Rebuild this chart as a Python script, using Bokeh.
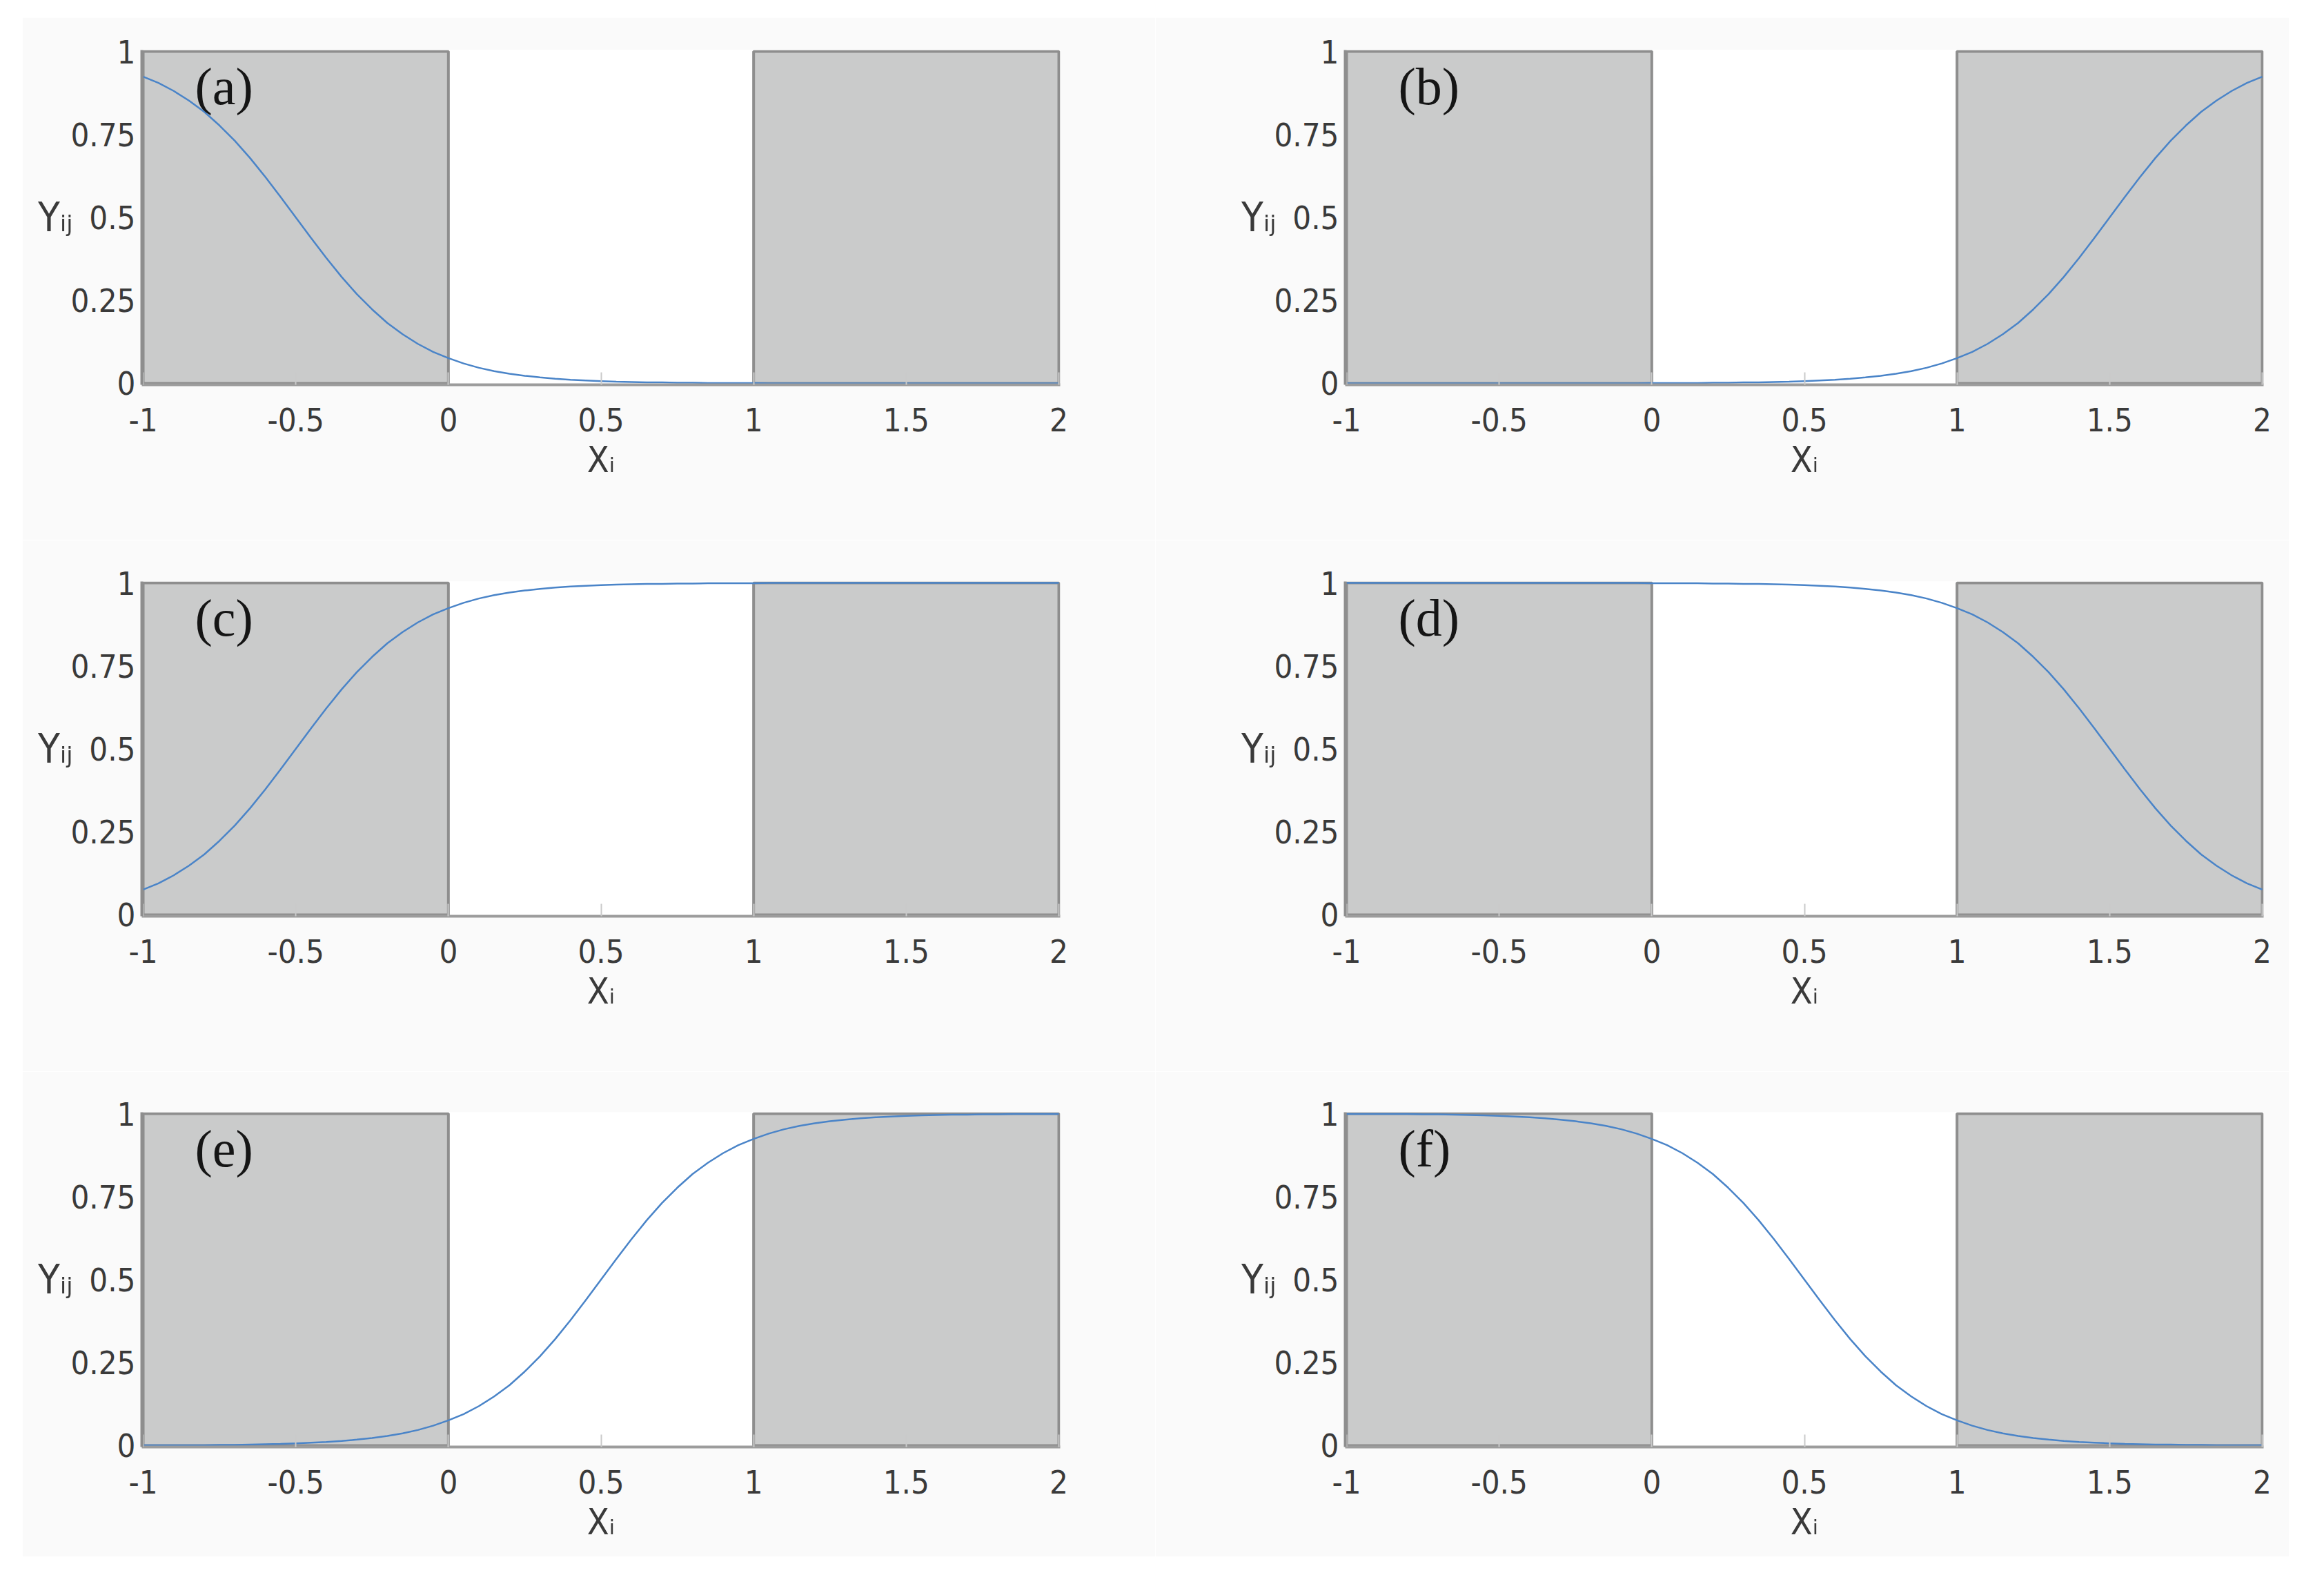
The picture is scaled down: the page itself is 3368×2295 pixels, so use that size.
from bokeh.plotting import figure
from bokeh.layouts import gridplot
from bokeh.models import Range1d, FixedTicker, Label
from bokeh.embed import file_html
from bokeh.resources import INLINE

# ---------------- data ----------------
x_vals = [-1.00, -0.95, -0.90, -0.85, -0.80, -0.75, -0.70, -0.65, -0.60, -0.55,
          -0.50, -0.45, -0.40, -0.35, -0.30, -0.25, -0.20, -0.15, -0.10, -0.05,
          0.00, 0.05, 0.10, 0.15, 0.20, 0.25, 0.30, 0.35, 0.40, 0.45,
          0.50, 0.55, 0.60, 0.65, 0.70, 0.75, 0.80, 0.85, 0.90, 0.95,
          1.00, 1.05, 1.10, 1.15, 1.20, 1.25, 1.30, 1.35, 1.40, 1.45,
          1.50, 1.55, 1.60, 1.65, 1.70, 1.75, 1.80, 1.85, 1.90, 1.95, 2.00]

y_a = [0.924, 0.905, 0.881, 0.852, 0.818, 0.777, 0.731, 0.679, 0.622, 0.562,
       0.500, 0.438, 0.378, 0.321, 0.269, 0.223, 0.182, 0.148, 0.119, 0.095,
       0.076, 0.060, 0.047, 0.037, 0.029, 0.023, 0.018, 0.014, 0.011, 0.009,
       0.007, 0.005, 0.004, 0.003, 0.003, 0.002, 0.002, 0.001, 0.001, 0.001,
       0.001, 0.000, 0.000, 0.000, 0.000, 0.000, 0.000, 0.000, 0.000, 0.000,
       0.000, 0.000, 0.000, 0.000, 0.000, 0.000, 0.000, 0.000, 0.000, 0.000, 0.000]
y_b = [0.000, 0.000, 0.000, 0.000, 0.000, 0.000, 0.000, 0.000, 0.000, 0.000,
       0.000, 0.000, 0.000, 0.000, 0.000, 0.000, 0.000, 0.000, 0.000, 0.000,
       0.001, 0.001, 0.001, 0.001, 0.002, 0.002, 0.003, 0.003, 0.004, 0.005,
       0.007, 0.009, 0.011, 0.014, 0.018, 0.023, 0.029, 0.037, 0.047, 0.060,
       0.076, 0.095, 0.119, 0.148, 0.182, 0.223, 0.269, 0.321, 0.378, 0.438,
       0.500, 0.562, 0.622, 0.679, 0.731, 0.777, 0.818, 0.852, 0.881, 0.905, 0.924]
y_c = [0.076, 0.095, 0.119, 0.148, 0.182, 0.223, 0.269, 0.321, 0.378, 0.438,
       0.500, 0.562, 0.622, 0.679, 0.731, 0.777, 0.818, 0.852, 0.881, 0.905,
       0.924, 0.940, 0.953, 0.963, 0.971, 0.977, 0.982, 0.986, 0.989, 0.991,
       0.993, 0.995, 0.996, 0.997, 0.997, 0.998, 0.998, 0.999, 0.999, 0.999,
       0.999, 1.000, 1.000, 1.000, 1.000, 1.000, 1.000, 1.000, 1.000, 1.000,
       1.000, 1.000, 1.000, 1.000, 1.000, 1.000, 1.000, 1.000, 1.000, 1.000, 1.000]
y_d = [1.000, 1.000, 1.000, 1.000, 1.000, 1.000, 1.000, 1.000, 1.000, 1.000,
       1.000, 1.000, 1.000, 1.000, 1.000, 1.000, 1.000, 1.000, 1.000, 1.000,
       0.999, 0.999, 0.999, 0.999, 0.998, 0.998, 0.997, 0.997, 0.996, 0.995,
       0.993, 0.991, 0.989, 0.986, 0.982, 0.977, 0.971, 0.963, 0.953, 0.940,
       0.924, 0.905, 0.881, 0.852, 0.818, 0.777, 0.731, 0.679, 0.622, 0.562,
       0.500, 0.438, 0.378, 0.321, 0.269, 0.223, 0.182, 0.148, 0.119, 0.095, 0.076]
y_e = [0.001, 0.001, 0.001, 0.001, 0.001, 0.002, 0.002, 0.003, 0.004, 0.005,
       0.007, 0.009, 0.011, 0.014, 0.018, 0.023, 0.029, 0.037, 0.047, 0.060,
       0.076, 0.095, 0.119, 0.148, 0.182, 0.223, 0.269, 0.321, 0.378, 0.438,
       0.500, 0.562, 0.622, 0.679, 0.731, 0.777, 0.818, 0.852, 0.881, 0.905,
       0.924, 0.940, 0.953, 0.963, 0.971, 0.977, 0.982, 0.986, 0.989, 0.991,
       0.993, 0.995, 0.996, 0.997, 0.997, 0.998, 0.998, 0.999, 0.999, 0.999, 0.999]
y_f = [0.999, 0.999, 0.999, 0.999, 0.999, 0.998, 0.998, 0.997, 0.996, 0.995,
       0.993, 0.991, 0.989, 0.986, 0.982, 0.977, 0.971, 0.963, 0.953, 0.940,
       0.924, 0.905, 0.881, 0.852, 0.818, 0.777, 0.731, 0.679, 0.622, 0.562,
       0.500, 0.438, 0.378, 0.321, 0.269, 0.223, 0.182, 0.148, 0.119, 0.095,
       0.076, 0.060, 0.047, 0.037, 0.029, 0.023, 0.018, 0.014, 0.011, 0.009,
       0.007, 0.005, 0.004, 0.003, 0.003, 0.002, 0.002, 0.001, 0.001, 0.001, 0.001]

series = [y_a, y_b, y_c, y_d, y_e, y_f]
panel_labels = ["(a)", "(b)", "(c)", "(d)", "(e)", "(f)"]

shade_left = [-1.0, 1.0]
shade_right = [0.0, 2.0]
shade_bottom = [0.0, 0.0]
shade_top = [1.0, 1.0]

x_ticks = [-1.0, -0.5, 0.0, 0.5, 1.0, 1.5, 2.0]
x_tick_labels = ["-1", "-0.5", "0", "0.5", "1", "1.5", "2"]
y_ticks = [0.0, 0.25, 0.5, 0.75, 1.0]
y_tick_labels = ["0", "0.25", "0.5", "0.75", "1"]
x_title = "X\u1d62"
y_title = "Y\u1d62\u2c7c"

# ---------------- styling / layout ----------------
BG = "#fafafa"
LAB_FONT = "Liberation Serif"
TICK_FONT = "DejaVu Sans Condensed"
TXT = "#3a3a3a"
LINE_BLUE = "#4a84c8"
SHADE = "#cacbcb"
SHADE_EDGE = "#8e8e8e"

col_borders = [(173, 138), (275, 37)]
row_borders = [(47, 225), (60, 225), (59, 159)]

figs = []
for i, (ys, lab) in enumerate(zip(series, panel_labels)):
    r, c = divmod(i, 2)
    bl, br = col_borders[c]
    bt, bb = row_borders[r]
    p = figure(frame_width=1331, frame_height=485,
               x_range=Range1d(-1.00452, 2.00452),
               y_range=Range1d(-0.00416, 1.00416),
               output_backend="svg", toolbar_location=None,
               min_border_left=bl, min_border_right=br,
               min_border_top=bt, min_border_bottom=bb)
    p.background_fill_color = "white"
    p.border_fill_color = BG
    p.outline_line_color = None
    p.xgrid.visible = False
    p.ygrid.visible = False

    p.quad(left=shade_left, right=shade_right, bottom=shade_bottom, top=shade_top,
           fill_color=SHADE, line_color=SHADE_EDGE, line_width=4)
    p.line(x_vals, ys, line_color=LINE_BLUE, line_width=2.5)

    for ax in (p.xaxis, p.yaxis):
        ax.minor_tick_line_color = None
        ax.major_label_text_font = TICK_FONT
        ax.major_label_text_font_size = "47px"
        ax.major_label_text_color = TXT
        ax.axis_line_width = 4
        ax.axis_label_text_font = TICK_FONT
        ax.axis_label_text_font_style = "normal"
        ax.axis_label_text_color = TXT

    p.xaxis.ticker = FixedTicker(ticks=x_ticks)
    p.xaxis.major_label_overrides = dict(zip(x_ticks, x_tick_labels))
    p.xaxis.major_tick_in = 18
    p.xaxis.major_tick_out = 0
    p.xaxis.major_tick_line_color = "#c9caca"
    p.xaxis.major_tick_line_width = 2
    p.xaxis.axis_line_color = "#9c9c9c"
    p.xaxis.major_label_standoff = 33
    p.xaxis.axis_label = x_title
    p.xaxis.axis_label_text_font_size = "52px"
    p.xaxis.axis_label_standoff = 8

    p.yaxis.ticker = FixedTicker(ticks=y_ticks)
    p.yaxis.major_label_overrides = dict(zip(y_ticks, y_tick_labels))
    p.yaxis.major_tick_in = 0
    p.yaxis.major_tick_out = 0
    p.yaxis.axis_line_color = SHADE_EDGE
    p.yaxis.major_label_standoff = 9
    p.yaxis.axis_label = y_title
    p.yaxis.axis_label_orientation = "horizontal"
    p.yaxis.axis_label_text_font_size = "58px"
    p.yaxis.axis_label_standoff = -6

    # panel letter
    p.add_layout(Label(x=-0.8305, y=0.895, text=lab, text_font=LAB_FONT,
                       text_font_size="76px", text_color="#151515",
                       text_align="left", text_baseline="alphabetic"))
    figs.append(p)

grid = gridplot([[figs[0], figs[1]], [figs[2], figs[3]], [figs[4], figs[5]]],
                toolbar_location=None)
grid.margin = (25, 0, 0, 32)

open("out.html", "w").write(file_html(grid, INLINE))
